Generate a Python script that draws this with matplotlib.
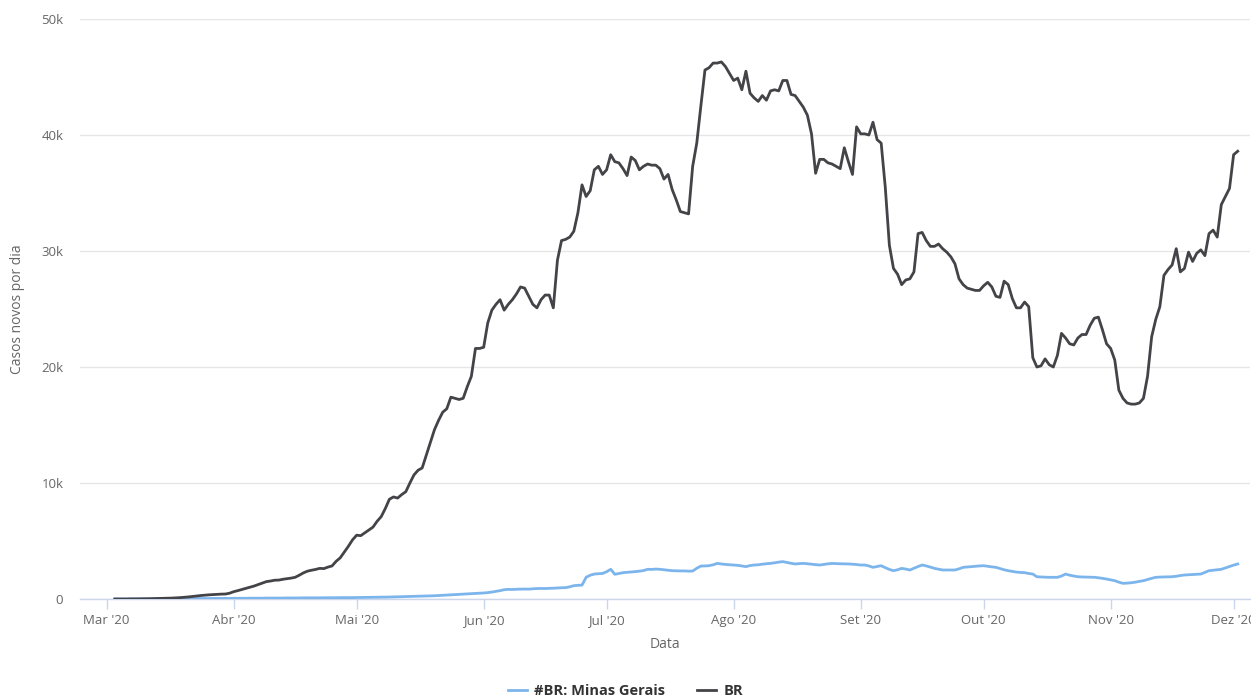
import matplotlib
matplotlib.use("Agg")
import matplotlib.pyplot as plt
import matplotlib.ticker as mticker
import pandas as pd

plt.rcParams['font.family'] = ['Open Sans', 'DejaVu Sans']

# 7-day average of new cases (thousands), one value per day from 2020-03-03
start_date = "2020-03-03"

br = [
    0.00, 0.00, 0.00, 0.00, 0.01, 0.01, 0.01, 0.02, 0.02, 0.03,
    0.04, 0.05, 0.06, 0.07, 0.08, 0.10, 0.12, 0.15, 0.18, 0.22,
    0.26, 0.30, 0.33, 0.36, 0.38, 0.40, 0.42, 0.43, 0.50, 0.63,
    0.72, 0.82, 0.92, 1.02, 1.12, 1.25, 1.38, 1.50, 1.55, 1.62,
    1.63, 1.70, 1.75, 1.80, 1.87, 2.05, 2.25, 2.40, 2.48, 2.55,
    2.64, 2.62, 2.75, 2.85, 3.25, 3.55, 4.05, 4.55, 5.10, 5.50,
    5.46, 5.70, 5.95, 6.20, 6.70, 7.10, 7.80, 8.60, 8.80, 8.70,
    9.00, 9.25, 10.0, 10.7, 11.1, 11.3, 12.4, 13.5, 14.6, 15.4,
    16.1, 16.4, 17.4, 17.3, 17.2, 17.3, 18.3, 19.2, 21.6, 21.6,
    21.7, 23.8, 24.9, 25.4, 25.8, 24.9, 25.4, 25.8, 26.3, 26.9,
    26.8, 26.1, 25.4, 25.1, 25.8, 26.2, 26.2, 25.1, 29.2, 30.9,
    31.0, 31.2, 31.7, 33.3, 35.7, 34.7, 35.2, 37.0, 37.3, 36.6,
    37.0, 38.3, 37.7, 37.6, 37.1, 36.5, 38.1, 37.8, 37.0, 37.3,
    37.5, 37.4, 37.4, 37.1, 36.2, 36.6, 35.3, 34.4, 33.4, 33.3,
    33.2, 37.3, 39.3, 42.5, 45.6, 45.8, 46.2, 46.2, 46.3, 45.9,
    45.3, 44.7, 44.9, 43.9, 45.5, 43.6, 43.2, 42.9, 43.4, 43.0,
    43.8, 43.9, 43.8, 44.7, 44.7, 43.5, 43.4, 42.9, 42.4, 41.7,
    40.1, 36.7, 37.9, 37.9, 37.6, 37.5, 37.3, 37.1, 38.9, 37.7,
    36.6, 40.7, 40.1, 40.1, 40.0, 41.1, 39.6, 39.3, 35.5, 30.5,
    28.5, 28.0, 27.1, 27.5, 27.6, 28.2, 31.5, 31.6, 30.9, 30.4,
    30.4, 30.6, 30.2, 29.9, 29.5, 28.9, 27.6, 27.1, 26.8, 26.7,
    26.6, 26.6, 27.0, 27.3, 26.9, 26.1, 26.0, 27.4, 27.1, 25.9,
    25.1, 25.1, 25.6, 25.2, 20.8, 20.0, 20.1, 20.7, 20.2, 20.0,
    21.0, 22.9, 22.5, 22.0, 21.9, 22.5, 22.8, 22.8, 23.6, 24.2,
    24.3, 23.2, 22.0, 21.6, 20.6, 18.0, 17.3, 16.9, 16.8, 16.8,
    16.9, 17.3, 19.2, 22.6, 24.1, 25.2, 27.9, 28.4, 28.8, 30.2,
    28.2, 28.5, 29.9, 29.1, 29.8, 30.1, 29.6, 31.5, 31.8, 31.2,
    34.0, 34.7, 35.4, 38.3, 38.6,
]

mg = [
    0.00, 0.00, 0.00, 0.00, 0.00, 0.00, 0.01, 0.01, 0.01, 0.01,
    0.01, 0.01, 0.02, 0.02, 0.02, 0.02, 0.03, 0.03, 0.03, 0.03,
    0.04, 0.04, 0.04, 0.04, 0.05, 0.05, 0.05, 0.05, 0.05, 0.06,
    0.06, 0.06, 0.06, 0.07, 0.07, 0.07, 0.07, 0.08, 0.08, 0.08,
    0.08, 0.08, 0.09, 0.09, 0.09, 0.09, 0.10, 0.10, 0.10, 0.10,
    0.10, 0.11, 0.11, 0.11, 0.11, 0.12, 0.12, 0.12, 0.12, 0.13,
    0.13, 0.14, 0.14, 0.15, 0.15, 0.16, 0.16, 0.17, 0.18, 0.19,
    0.20, 0.21, 0.22, 0.23, 0.24, 0.25, 0.26, 0.27, 0.28, 0.30,
    0.32, 0.34, 0.36, 0.38, 0.40, 0.42, 0.44, 0.46, 0.48, 0.50,
    0.52, 0.55, 0.60, 0.66, 0.72, 0.80, 0.83, 0.82, 0.84, 0.85,
    0.86, 0.85, 0.88, 0.90, 0.91, 0.90, 0.92, 0.93, 0.95, 0.97,
    0.98, 1.05, 1.15, 1.18, 1.20, 1.87, 2.05, 2.15, 2.18, 2.20,
    2.35, 2.56, 2.13, 2.20, 2.27, 2.30, 2.33, 2.36, 2.40, 2.45,
    2.56, 2.55, 2.58, 2.56, 2.52, 2.48, 2.44, 2.43, 2.42, 2.42,
    2.40, 2.41, 2.65, 2.84, 2.85, 2.87, 2.95, 3.07, 3.02, 2.98,
    2.95, 2.93, 2.90, 2.85, 2.79, 2.88, 2.93, 2.95, 3.00, 3.04,
    3.07, 3.12, 3.18, 3.22, 3.15, 3.08, 3.02, 3.05, 3.07, 3.04,
    3.00, 2.96, 2.93, 2.98, 3.03, 3.07, 3.05, 3.04, 3.03, 3.02,
    3.00, 2.97, 2.93, 2.93, 2.85, 2.73, 2.80, 2.87, 2.70, 2.55,
    2.44, 2.52, 2.64, 2.58, 2.50, 2.65, 2.80, 2.93, 2.85, 2.75,
    2.64, 2.57, 2.50, 2.50, 2.50, 2.50, 2.60, 2.73, 2.76, 2.79,
    2.82, 2.85, 2.87, 2.82, 2.77, 2.73, 2.62, 2.52, 2.44, 2.38,
    2.32, 2.29, 2.27, 2.20, 2.15, 1.92, 1.90, 1.88, 1.87, 1.87,
    1.87, 1.98, 2.15, 2.05, 1.98, 1.92, 1.90, 1.89, 1.88, 1.87,
    1.83, 1.78, 1.72, 1.65, 1.58, 1.45, 1.35, 1.37, 1.40, 1.45,
    1.52, 1.58, 1.68, 1.78, 1.87, 1.89, 1.90, 1.91, 1.92, 1.96,
    2.02, 2.07, 2.09, 2.11, 2.13, 2.15, 2.30, 2.44, 2.48, 2.52,
    2.56, 2.68, 2.79, 2.92, 3.02,
]

month_ticks = pd.date_range("2020-03-01", "2020-12-01", freq="MS")
month_names = ["Mar", "Abr", "Mai", "Jun", "Jul", "Ago", "Set", "Out", "Nov", "Dez"]

dates_br = pd.date_range(start_date, periods=len(br), freq="D")
dates_mg = pd.date_range(start_date, periods=len(mg), freq="D")

fig = plt.figure(figsize=(12.51, 6.97), dpi=100)
ax = fig.add_axes([80 / 1251, 1 - 599 / 697, 1170 / 1251, 580 / 697])

ax.plot(dates_mg, [v * 1000 for v in mg], color="#7cb5ec", lw=2, label="#BR: Minas Gerais", zorder=3)
ax.plot(dates_br, [v * 1000 for v in br], color="#434348", lw=2, label="BR", zorder=3)

ax.set_ylim(0, 50000)
ax.set_xlim(pd.Timestamp("2020-02-23 12:00"), pd.Timestamp("2020-12-05"))
ax.yaxis.set_major_locator(mticker.MultipleLocator(10000))
ax.yaxis.set_major_formatter(mticker.FuncFormatter(lambda v, p: "0" if v == 0 else f"{int(v / 1000)}k"))
ax.set_xticks(month_ticks)
ax.set_xticklabels([f"{m} '20" for m in month_names])

ax.grid(axis="y", color="#e6e6e6", lw=1)
ax.set_axisbelow(True)
for s in ["top", "right", "left"]:
    ax.spines[s].set_visible(False)
ax.spines["bottom"].set_color("#ccd6eb")
ax.spines["bottom"].set_linewidth(1)

ax.tick_params(axis="y", length=0, pad=12, labelsize=9.5, labelcolor="#666666")
ax.tick_params(axis="x", length=7, width=1, color="#ccd6eb", pad=4, labelsize=9.5, labelcolor="#666666")

ax.set_xlabel("Data", fontsize=10, color="#666666", labelpad=7)
ax.set_ylabel("Casos novos por dia", fontsize=10, color="#666666", labelpad=12)

fig.legend(loc="lower center", bbox_to_anchor=(0.5, -0.02), ncol=2, frameon=False,
           handlelength=1.3, columnspacing=2.2, handletextpad=0.5,
           prop={"weight": "bold", "size": 10.5}, labelcolor="#333333")

fig.savefig("out.png", dpi=100)
